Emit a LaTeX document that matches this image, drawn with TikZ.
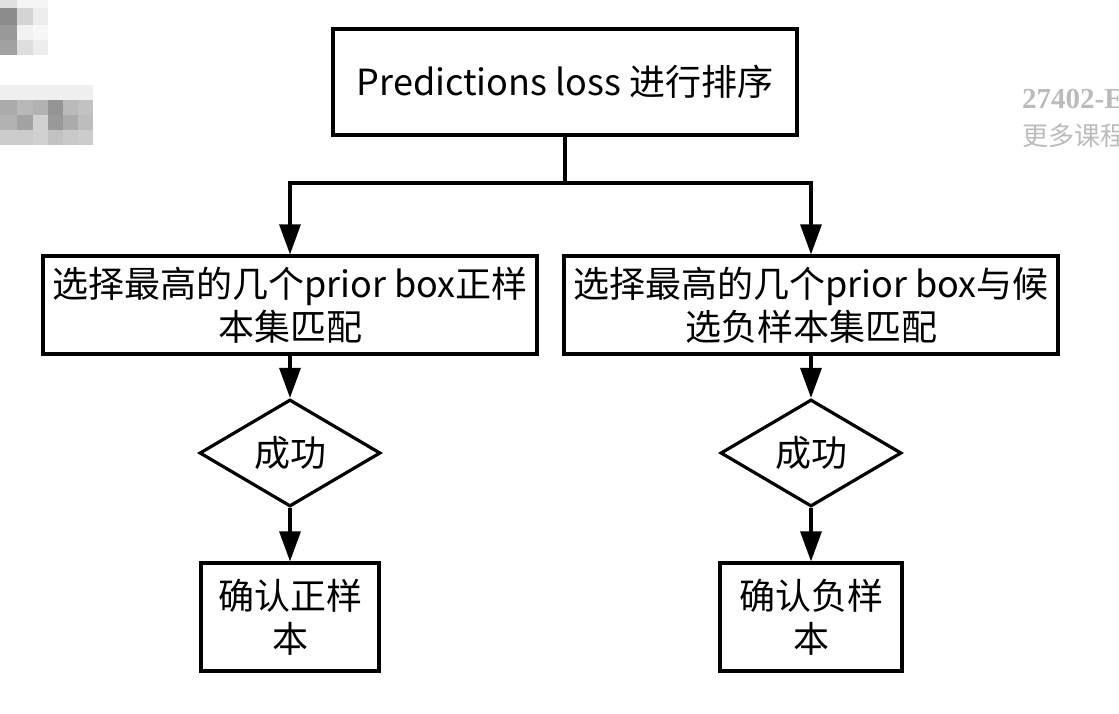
\documentclass[tikz,border=0pt]{standalone}
\usepackage{fontspec}
\setmainfont{Noto Sans CJK SC}
\newfontfamily\wmserif{Liberation Serif}
\usetikzlibrary{shapes.geometric,arrows.meta}
\definecolor{wm}{HTML}{BBBBBB}
\begin{document}
\begin{tikzpicture}[x=1pt,y=-1pt,
  box/.style={draw=black, line width=3.2pt, align=center, inner sep=0pt,
    font=\fontsize{36}{43}\selectfont},
  dia/.style={draw=black, line width=3.2pt, diamond, aspect=1.7, inner sep=0pt,
    minimum width=181pt, minimum height=107pt, font=\fontsize{36}{43}\selectfont},
  arr/.style={line width=3.2pt, -{Triangle[length=30pt,width=21pt]}},
  ln/.style={line width=3.2pt}]
\useasboundingbox (0,0) rectangle (1119,713);
\clip (0,0) rectangle (1119,713);
\fill[white] (0,0) rectangle (1119,713);
% blurred blocks (top left)
\fill[black!12] (0,0) rectangle (17,8);
\fill[black!4] (17,0) rectangle (48,8);
\fill[black!45] (0,8) rectangle (17,25);
\fill[black!17] (17,8) rectangle (33,25);
\fill[black!7] (33,8) rectangle (48,25);
\fill[black!40] (0,25) rectangle (17,40);
\fill[black!5] (17,25) rectangle (33,40);
\fill[black!3] (33,25) rectangle (48,40);
\fill[black!37] (0,40) rectangle (17,55);
\fill[black!13] (17,40) rectangle (33,55);
\fill[black!7] (33,40) rectangle (48,55);
\fill[black!6] (0,85) rectangle (93,100);
\fill[black!33] (0,100) rectangle (17,115);
\fill[black!28] (17,100) rectangle (33,115);
\fill[black!30] (33,100) rectangle (48,115);
\fill[black!42] (48,100) rectangle (63,115);
\fill[black!27] (63,100) rectangle (78,115);
\fill[black!24] (78,100) rectangle (93,115);
\fill[black!30] (0,115) rectangle (17,130);
\fill[black!36] (17,115) rectangle (33,130);
\fill[black!18] (33,115) rectangle (48,130);
\fill[black!40] (48,115) rectangle (63,130);
\fill[black!33] (63,115) rectangle (78,130);
\fill[black!26] (78,115) rectangle (93,130);
\fill[black!20] (0,130) rectangle (17,145);
\fill[black!20] (17,130) rectangle (33,145);
\fill[black!18] (33,130) rectangle (48,145);
\fill[black!24] (48,130) rectangle (63,145);
\fill[black!21] (63,130) rectangle (78,145);
\fill[black!20] (78,130) rectangle (93,145);
% watermark (cut off at the right edge, as in the reference)
\node[anchor=base west, inner sep=0pt, text=wm, font=\wmserif\bfseries\fontsize{29}{30}\selectfont] (wm1) at (1022,108) {27402-E};
\node[anchor=base west, inner sep=0pt, text=wm, font=\fontsize{26}{28}\selectfont] (wm2) at (1022,145) {更多课程};
% nodes
\node[box, minimum width=464pt, minimum height=106pt] (top) at (565,82) {Predictions loss 进行排序};
\node[box, minimum width=494pt, minimum height=98pt] (L) at (290,305) {选择最高的几个prior box正样\\本集匹配};
\node[box, minimum width=494pt, minimum height=98pt] (R) at (811,305) {选择最高的几个prior box与候\\选负样本集匹配};
\node[dia] (D1) at (290,453) {成功};
\node[dia] (D2) at (811,453) {成功};
\node[box, minimum width=178pt, minimum height=108pt] (B1) at (290,617) {确认正样\\本};
\node[box, minimum width=182pt, minimum height=108pt] (B2) at (811,617) {确认负样\\本};
% connectors
\coordinate (j) at (565,183);
\draw[ln] (top.south) -- (j);
\draw[arr] (j) -| (L.north);
\draw[arr] (j) -| (R.north);
\draw[arr] (L.south) -- (D1.north);
\draw[arr] (R.south) -- (D2.north);
\draw[arr] (D1.south) -- (B1.north);
\draw[arr] (D2.south) -- (B2.north);
\end{tikzpicture}
\end{document}
